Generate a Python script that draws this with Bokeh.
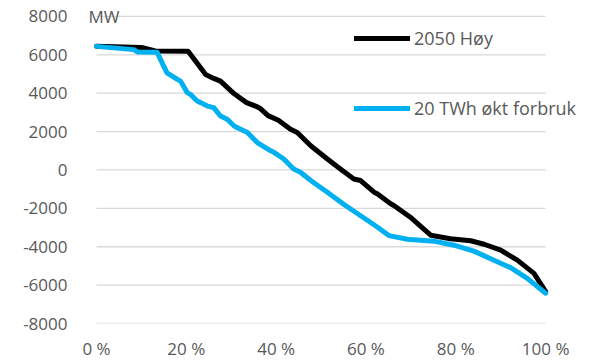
from bokeh.plotting import figure
from bokeh.models import Range1d, FixedTicker, Legend, LegendItem, Label
from bokeh.embed import file_html
from bokeh.resources import INLINE

# Duration curves (share of hours in %, MW)
hoy_x = [0, 10.0, 13.1, 20.4, 24.3, 26.1, 27.6, 30.6, 33.4, 35.4, 36.5, 38.2, 40.5,
         43.2, 44.7, 47.7, 51.4, 54.3, 57.3, 58.8, 61.8, 62.5, 65.5, 66.2, 69.8,
         74.4, 78.8, 83.3, 86.3, 90.0, 93.7, 97.4, 100]
hoy_y = [6450, 6380, 6200, 6180, 4970, 4770, 4630, 3980, 3510, 3330, 3200, 2830, 2590,
         2120, 1950, 1260, 570, 50, -470, -550, -1160, -1240, -1760, -1850, -2450,
         -3400, -3580, -3690, -3870, -4180, -4700, -5390, -6340]

okt_x = [0, 8.3, 9.1, 13.5, 15.7, 18.0, 18.7, 20.2, 20.9, 22.4, 23.2, 24.7, 26.1, 27.6,
         29.1, 30.6, 31.3, 33.6, 35.8, 38.8, 39.5, 41.7, 43.9, 45.4, 47.7, 51.4, 55.1,
         60.3, 62.5, 65.1, 69.2, 75.1, 79.6, 84.0, 88.5, 92.2, 95.9, 100]
okt_y = [6440, 6270, 6150, 6130, 5060, 4720, 4630, 4030, 3940, 3590, 3510, 3330, 3250, 2810,
         2640, 2300, 2210, 1950, 1430, 1000, 920, 570, 50, -120, -550, -1160, -1800,
         -2620, -2970, -3420, -3610, -3710, -3920, -4230, -4700, -5090, -5650, -6420]

series_names = ["2050 Høy", "20 TWh økt forbruk"]
x_ticks = [0, 20, 40, 60, 80, 100]
x_tick_labels = ["0 %", "20 %", "40 %", "60 %", "80 %", "100 %"]
y_ticks = [-8000, -6000, -4000, -2000, 0, 2000, 4000, 6000, 8000]
y_tick_labels = ["-8000", "-6000", "-4000", "-2000", "0", "2000", "4000", "6000", "8000"]
unit_label = "MW"
x_min, x_max = 0, 100

FONT = "Open Sans"
GREY = "#595959"

# frame spans a little beyond the data area so the legend and unit text are not clipped
p = figure(width=595, height=362, output_backend="svg", toolbar_location=None,
           x_range=Range1d(-3.56, 111.1), y_range=Range1d(-8000, 8830),
           min_border_left=80, min_border_right=0, min_border_top=0, min_border_bottom=36)
p.outline_line_color = None
p.background_fill_color = "white"
p.border_fill_color = "white"

p.xgrid.grid_line_color = None
p.ygrid.grid_line_color = None

# horizontal grid lines limited to the data area (0-100 %)
p.segment(x0=[x_min] * len(y_ticks), x1=[x_max] * len(y_ticks), y0=y_ticks, y1=y_ticks,
          line_color="#D9D9D9", line_width=1.3)

p.xaxis.ticker = FixedTicker(ticks=x_ticks)
p.xaxis.major_label_overrides = {t: l for t, l in zip(x_ticks, x_tick_labels)}
p.yaxis.ticker = FixedTicker(ticks=y_ticks)
p.yaxis.major_label_overrides = {t: l for t, l in zip(y_ticks, y_tick_labels)}

for ax in (p.xaxis[0], p.yaxis[0]):
    ax.axis_line_color = None
    ax.major_tick_line_color = None
    ax.minor_tick_line_color = None
    ax.major_label_text_font = FONT
    ax.major_label_text_font_size = "17px"
    ax.major_label_text_color = GREY
p.xaxis.major_label_standoff = 7
p.yaxis.major_label_standoff = 7

r1 = p.line(hoy_x, hoy_y, line_color="#000000", line_width=5, line_join="round", line_cap="round")
r2 = p.line(okt_x, okt_y, line_color="#00B0F0", line_width=5, line_join="round", line_cap="round")

legend = Legend(items=[LegendItem(label=series_names[0], renderers=[r1]),
                       LegendItem(label=series_names[1], renderers=[r2])],
                location=(274, 203), orientation="vertical",
                glyph_width=56, glyph_height=20, label_height=20, spacing=46,
                label_standoff=4, padding=0, margin=0,
                label_text_font=FONT, label_text_font_size="18px", label_text_color=GREY,
                background_fill_alpha=0, border_line_color=None)
p.add_layout(legend, "center")

p.add_layout(Label(x=0, y=8000, text=unit_label, x_offset=-8, text_baseline="middle",
                   text_align="left", text_font=FONT, text_font_size="17px", text_color=GREY))

open("out.html", "w").write(file_html(p, INLINE))
